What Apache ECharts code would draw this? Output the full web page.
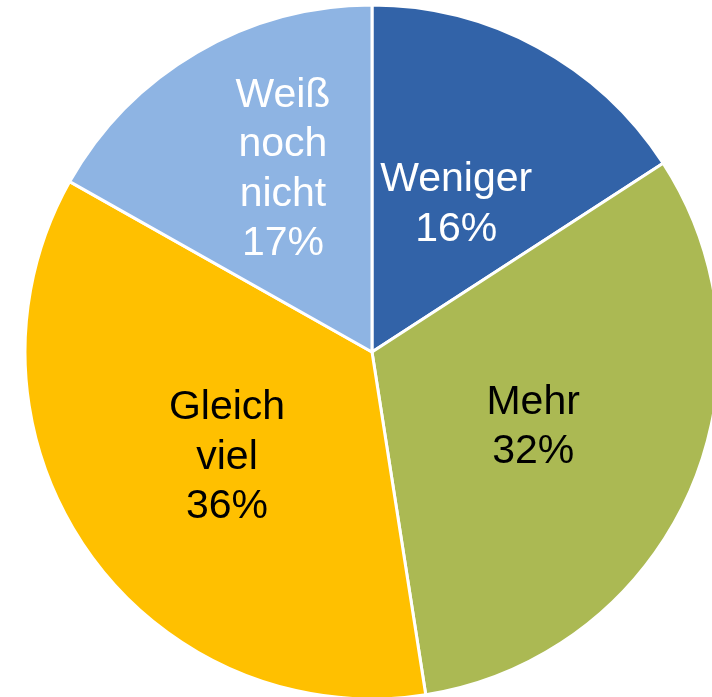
<!DOCTYPE html>
<html>
<head>
<meta charset="UTF-8">
<title>Pie</title>
<script src="https://cdn.jsdelivr.net/npm/echarts@6/dist/echarts.min.js"></script>
<style>
  html, body { margin: 0; padding: 0; background: #fff; }
  #main { width: 712px; height: 697px; }
</style>
</head>
<body>
<div id="main"></div>
<script type="text/javascript">
// categories, values (percent) and the text shown inside each slice
var names = ['Weniger', 'Mehr', 'Gleich viel', 'Weiß noch nicht'];
var values = [16, 32, 36, 17];
var labelTexts = ['Weniger\n16%', 'Mehr\n32%', 'Gleich\nviel\n36%', 'Weiß\nnoch\nnicht\n17%'];
var colors = ['#3263A8', '#ABB953', '#FFC000', '#8EB4E3'];
var textColors = ['#fff', '#000', '#000', '#fff'];
// vertical nudge of each label from the slice's middle
var labelShift = [8, 3, 5, -30];

var myChart = echarts.init(document.getElementById('main'));

var data = [];
for (var i = 0; i < names.length; i++) {
  data.push({
    name: names[i],
    value: values[i],
    itemStyle: { color: colors[i] },
    label: { color: textColors[i], formatter: labelTexts[i] }
  });
}

var option = {
  animation: false,
  series: [{
    type: 'pie',
    center: [372, 352],
    radius: [0, 347],
    startAngle: 90,
    clockwise: true,
    itemStyle: {
      borderColor: '#fff',
      borderWidth: 3
    },
    label: {
      show: true,
      position: 'inside',
      fontFamily: 'Liberation Sans, Arial, sans-serif',
      fontSize: 41,
      lineHeight: 49.5,
      align: 'center'
    },
    labelLayout: function (params) {
      return { dy: labelShift[params.dataIndex] };
    },
    labelLine: { show: false },
    emphasis: { disabled: true },
    data: data
  }]
};

myChart.setOption(option);
</script>
</body>
</html>
